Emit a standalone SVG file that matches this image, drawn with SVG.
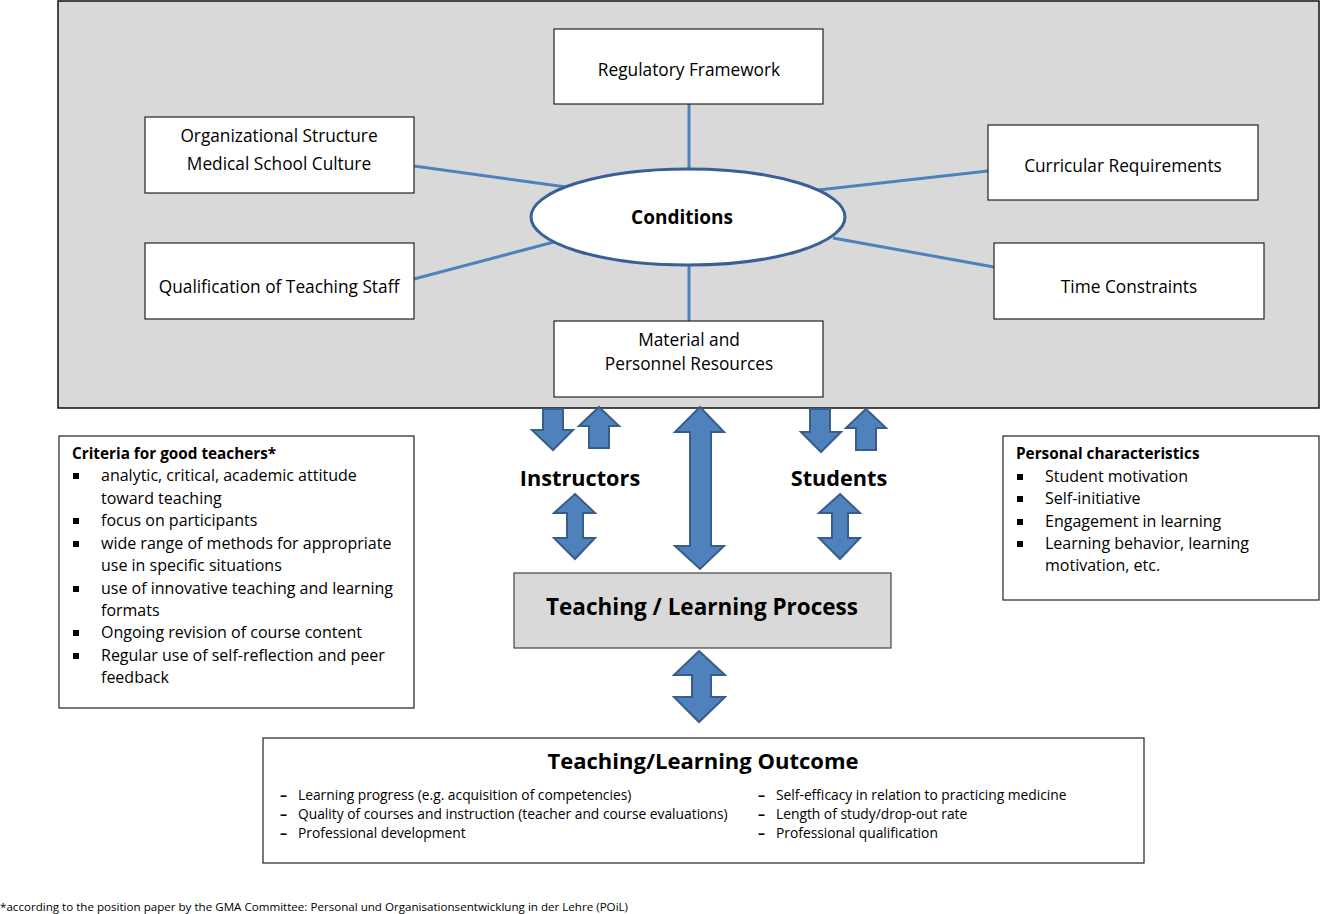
<svg xmlns="http://www.w3.org/2000/svg" width="1320" height="914" viewBox="0 0 1320 914">
<style>
text{font-family:"Open Sans","Noto Sans","DejaVu Sans",sans-serif;fill:#000}
.box{fill:#fff;stroke:#222;stroke-width:1.2}
.lbl{font-size:17.3px;text-anchor:middle}
.bold{font-weight:bold}
.link{stroke:#4f81bd;stroke-width:3;fill:none}
.arr{fill:#4f81bd;stroke:#385d8a;stroke-width:2;stroke-linejoin:miter}
.li{font-size:16px}
.ol{font-size:13.8px}
.dash{font-size:14px;font-weight:bold}
</style>
<defs>
<rect id="sq" x="-3" y="-3" width="6" height="6" fill="#000"/>
</defs>
<g id="conditions-frame">
<rect x="58" y="1" width="1261" height="407" fill="#d9d9d9" stroke="#111" stroke-width="1.5"/>
</g>
<g id="connectors">
<line class="link" x1="689" y1="104" x2="689" y2="171"/>
<line class="link" x1="414" y1="166" x2="566" y2="187"/>
<line class="link" x1="414" y1="279" x2="554" y2="242"/>
<line class="link" x1="988" y1="171" x2="818" y2="190"/>
<line class="link" x1="994" y1="267" x2="833" y2="238"/>
<line class="link" x1="689" y1="264" x2="689" y2="321"/>
<path class="arr" d="M543,409 L563,409 L563,430 L573,430 L553,450 L532,430 L543,430 Z"/>
<path class="arr" d="M599,407 L619,426 L609,426 L609,448 L589,448 L589,426 L579,426 Z"/>
<path class="arr" d="M700,407 L724,432 L711,432 L711,546 L724,546 L700,569 L675,546 L690,546 L690,432 L675,432 Z"/>
<path class="arr" d="M575,494 L595,513 L583,513 L583,538 L595,538 L575,559 L554,538 L567,538 L567,513 L554,513 Z"/>
<path class="arr" d="M810,409 L830,409 L830,432 L841,432 L821,452 L801,432 L810,432 Z"/>
<path class="arr" d="M866,409 L886,428 L876,428 L876,450 L856,450 L856,428 L846,428 Z"/>
<path class="arr" d="M840,494 L860,513 L848,513 L848,538 L860,538 L840,559 L819,538 L832,538 L832,513 L819,513 Z"/>
<path class="arr" d="M699,651 L725,675 L711,675 L711,697 L725,697 L699,722 L674,697 L692,697 L692,675 L674,675 Z"/>
</g>
<g id="regulatory">
<rect class="box" x="554" y="29" width="269" height="75"/>
<text class="lbl" x="689" y="76">Regulatory Framework</text>
</g>
<g id="organizational">
<rect class="box" x="145" y="117" width="269" height="76"/>
<text class="lbl" x="279" y="142">Organizational Structure</text>
<text class="lbl" x="279" y="170">Medical School Culture</text>
</g>
<g id="qualification">
<rect class="box" x="145" y="243" width="269" height="76"/>
<text class="lbl" x="279" y="293">Qualification of Teaching Staff</text>
</g>
<g id="curricular">
<rect class="box" x="988" y="125" width="270" height="75"/>
<text class="lbl" x="1123" y="172">Curricular Requirements</text>
</g>
<g id="time">
<rect class="box" x="994" y="243" width="270" height="76"/>
<text class="lbl" x="1129" y="293">Time Constraints</text>
</g>
<g id="material">
<rect class="box" x="554" y="321" width="269" height="76"/>
<text class="lbl" x="689" y="346">Material and</text>
<text class="lbl" x="689" y="370">Personnel Resources</text>
</g>
<g id="conditions">
<ellipse cx="688" cy="217" rx="157" ry="48" fill="#fff" stroke="#3a5f95" stroke-width="3"/>
<text class="bold" x="682" y="224" font-size="19" text-anchor="middle">Conditions</text>
</g>
<g id="instructors">
<text class="bold" x="580" y="486" font-size="21.7" text-anchor="middle">Instructors</text>
</g>
<g id="students">
<text class="bold" x="839" y="486" font-size="21.7" text-anchor="middle">Students</text>
</g>
<g id="process">
<rect x="514" y="573" width="377" height="75" fill="#d9d9d9" stroke="#444" stroke-width="1.2"/>
<text class="bold" x="702" y="615" font-size="22.5" text-anchor="middle">Teaching / Learning Process</text>
</g>
<g id="criteria">
<rect class="box" x="59" y="436" width="355" height="272"/>
<text class="bold" x="72" y="459" font-size="15.3">Criteria for good teachers*</text>
<use href="#sq" x="76" y="476"/><text class="li" x="101" y="481">analytic, critical, academic attitude</text>
<text class="li" x="101" y="504">toward teaching</text>
<use href="#sq" x="76" y="521"/><text class="li" x="101" y="526">focus on participants</text>
<use href="#sq" x="76" y="544"/><text class="li" x="101" y="549">wide range of methods for appropriate</text>
<text class="li" x="101" y="571">use in specific situations</text>
<use href="#sq" x="76" y="589"/><text class="li" x="101" y="594">use of innovative teaching and learning</text>
<text class="li" x="101" y="616">formats</text>
<use href="#sq" x="76" y="633"/><text class="li" x="101" y="638">Ongoing revision of course content</text>
<use href="#sq" x="76" y="656"/><text class="li" x="101" y="661">Regular use of self-reflection and peer</text>
<text class="li" x="101" y="683">feedback</text>
</g>
<g id="personal">
<rect class="box" x="1003" y="436" width="316" height="164"/>
<text class="bold" x="1016" y="459" font-size="15.3">Personal characteristics</text>
<use href="#sq" x="1020" y="477"/><text class="li" x="1045" y="482">Student motivation</text>
<use href="#sq" x="1020" y="499"/><text class="li" x="1045" y="504">Self-initiative</text>
<use href="#sq" x="1020" y="522"/><text class="li" x="1045" y="527">Engagement in learning</text>
<use href="#sq" x="1020" y="544"/><text class="li" x="1045" y="549">Learning behavior, learning</text>
<text class="li" x="1045" y="571">motivation, etc.</text>
</g>
<g id="outcome">
<rect class="box" x="263" y="738" width="881" height="125"/>
<text class="bold" x="703" y="769" font-size="22" text-anchor="middle">Teaching/Learning Outcome</text>
<text class="dash" x="280" y="800">–</text><text class="ol" x="298" y="800">Learning progress (e.g. acquisition of competencies)</text>
<text class="dash" x="280" y="819">–</text><text class="ol" x="298" y="819">Quality of courses and instruction (teacher and course evaluations)</text>
<text class="dash" x="280" y="838">–</text><text class="ol" x="298" y="838">Professional development</text>
<text class="dash" x="758" y="800">–</text><text class="ol" x="776" y="800">Self-efficacy in relation to practicing medicine</text>
<text class="dash" x="758" y="819">–</text><text class="ol" x="776" y="819">Length of study/drop-out rate</text>
<text class="dash" x="758" y="838">–</text><text class="ol" x="776" y="838">Professional qualification</text>
</g>
<g id="footnote">
<text x="0" y="911" font-size="11.6">*according to the position paper by the GMA Committee: Personal und Organisationsentwicklung in der Lehre (POiL)</text>
</g>
</svg>
